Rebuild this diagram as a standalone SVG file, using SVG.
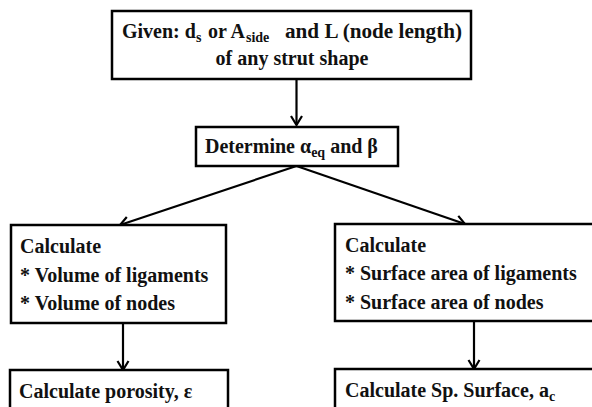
<svg xmlns="http://www.w3.org/2000/svg" width="592" height="407" viewBox="0 0 592 407">
<defs>
<marker id="arr" markerWidth="14" markerHeight="14" refX="12" refY="7" orient="auto" markerUnits="userSpaceOnUse">
<path d="M3,1.5 L12,7 L3,12.5" fill="none" stroke="#000" stroke-width="2.2"/>
</marker>
<style>
.box{fill:#fff;stroke:#000;stroke-width:2.5}
text{font-family:'Liberation Serif','Times New Roman',serif;font-weight:bold;font-size:20px;fill:#111}
.s{font-size:14px}
.c{fill:none;stroke:#000;stroke-width:2.2}
</style>
</defs>
<rect width="592" height="407" fill="#fff"/>
<g id="connectors">
<line class="c" x1="296.5" y1="79" x2="296.5" y2="125" marker-end="url(#arr)"/>
<line class="c" x1="296.5" y1="166" x2="120" y2="225" marker-end="url(#arr)"/>
<line class="c" x1="296.5" y1="166" x2="465" y2="224" marker-end="url(#arr)"/>
<line class="c" x1="123" y1="323" x2="123" y2="370" marker-end="url(#arr)"/>
<line class="c" x1="474" y1="321" x2="474" y2="369" marker-end="url(#arr)"/>
</g>
<g id="given">
<rect class="box" x="112" y="11" width="359" height="68"/>
<text x="122" y="38">Given: d<tspan class="s" dy="4">s</tspan><tspan dy="-4" x="208">or A</tspan><tspan class="s" dy="4" x="246">side</tspan></text>
<text x="285" y="38" textLength="177" lengthAdjust="spacingAndGlyphs">and L (node length)</text>
<text x="292" y="65" text-anchor="middle">of any strut shape</text>
</g>
<g id="determine">
<rect class="box" x="196" y="127" width="202" height="39"/>
<text x="205" y="153">Determine α<tspan class="s" dy="4">eq</tspan><tspan dy="-4"> and β</tspan></text>
</g>
<g id="volume">
<rect class="box" x="11" y="225" width="215" height="98"/>
<text x="20" y="253">Calculate</text>
<text x="20" y="282">* Volume of ligaments</text>
<text x="20" y="310">* Volume of nodes</text>
</g>
<g id="surface">
<rect class="box" x="335" y="224" width="260" height="97"/>
<text x="345" y="252">Calculate</text>
<text x="345" y="280">* Surface area of ligaments</text>
<text x="345" y="309">* Surface area of nodes</text>
</g>
<g id="porosity">
<rect class="box" x="10" y="370" width="218" height="45"/>
<text x="19" y="398">Calculate porosity, ε</text>
</g>
<g id="specific">
<rect class="box" x="335" y="369" width="260" height="45"/>
<text x="345" y="397">Calculate Sp. Surface, a<tspan class="s" dy="4">c</tspan></text>
</g>
</svg>
